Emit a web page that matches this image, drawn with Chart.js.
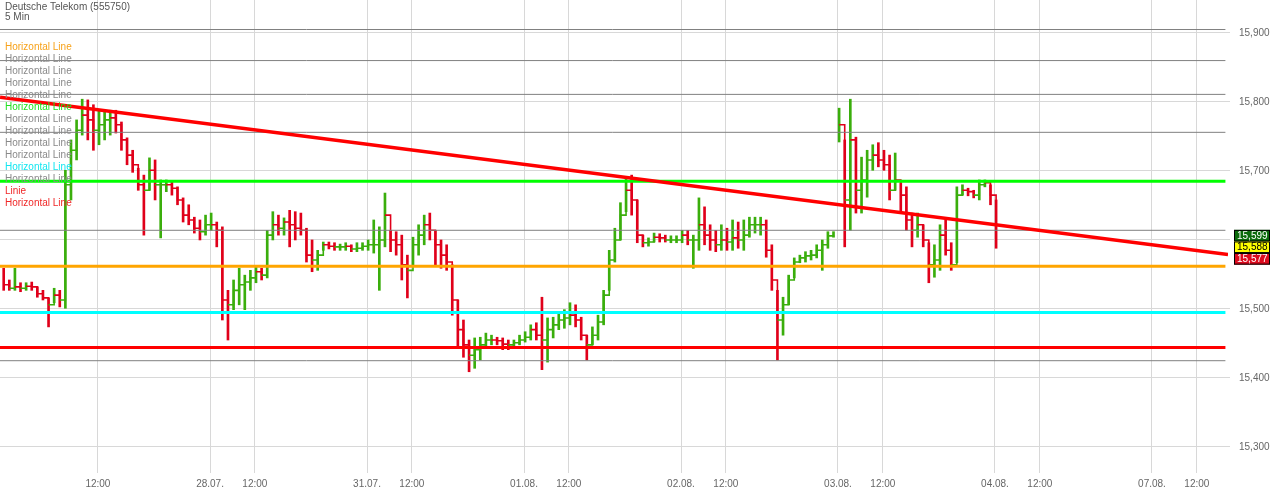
<!DOCTYPE html>
<html>
<head>
<meta charset="utf-8">
<script src="https://cdn.jsdelivr.net/npm/chart.js@4.4.0/dist/chart.umd.min.js"></script>
<style>
  html, body { margin: 0; padding: 0; background: #fff; }
  #wrap { width: 1274px; height: 491px; position: relative; }
</style>
</head>
<body>
<div id="wrap"><canvas id="myChart"></canvas></div>
<script>
// 30 min bars, x = trading hours counted from 27.07. 08:00 (one day = 14 h)
const startHour = -4.4;
const stepHours = 0.5;

const highs = [
  15.559, 15.542, 15.559, 15.538, 15.538, 15.539, 15.532, 15.527, 15.516, 15.530,
  15.527, 15.701, 15.745, 15.774, 15.804, 15.803, 15.796, 15.788, 15.788, 15.788,
  15.788, 15.771, 15.748, 15.730, 15.704, 15.694, 15.719, 15.716, 15.687, 15.687,
  15.684, 15.677, 15.661, 15.651, 15.633, 15.629, 15.636, 15.639, 15.626, 15.619,
  15.527, 15.542, 15.559, 15.549, 15.556, 15.562, 15.559, 15.614, 15.641, 15.636,
  15.632, 15.643, 15.641, 15.639, 15.617, 15.600, 15.585, 15.597, 15.597, 15.596,
  15.594, 15.596, 15.593, 15.596, 15.596, 15.600, 15.629, 15.619, 15.668, 15.614,
  15.612, 15.607, 15.578, 15.604, 15.622, 15.636, 15.639, 15.614, 15.600, 15.593,
  15.564, 15.513, 15.484, 15.455, 15.458, 15.459, 15.465, 15.462, 15.459, 15.458,
  15.455, 15.455, 15.462, 15.467, 15.477, 15.480, 15.517, 15.487, 15.488, 15.494,
  15.499, 15.509, 15.506, 15.488, 15.462, 15.474, 15.491, 15.527, 15.585, 15.617,
  15.654, 15.690, 15.694, 15.658, 15.607, 15.603, 15.610, 15.609, 15.607, 15.606,
  15.606, 15.614, 15.614, 15.607, 15.661, 15.648, 15.622, 15.614, 15.622, 15.617,
  15.629, 15.626, 15.629, 15.633, 15.633, 15.633, 15.629, 15.593, 15.527, 15.517,
  15.549, 15.574, 15.578, 15.583, 15.585, 15.593, 15.600, 15.612, 15.612, 15.791,
  15.745, 15.804, 15.749, 15.720, 15.730, 15.738, 15.741, 15.730, 15.723, 15.726,
  15.683, 15.677, 15.639, 15.639, 15.622, 15.596, 15.593, 15.622, 15.629, 15.596,
  15.677, 15.680, 15.675, 15.672, 15.687, 15.687, 15.680, 15.658
];
const lows = [
  15.527, 15.527, 15.527, 15.525, 15.527, 15.527, 15.517, 15.513, 15.474, 15.509,
  15.503, 15.501, 15.658, 15.716, 15.752, 15.745, 15.730, 15.738, 15.745, 15.752,
  15.755, 15.730, 15.709, 15.698, 15.672, 15.607, 15.672, 15.658, 15.603, 15.670,
  15.665, 15.651, 15.626, 15.622, 15.610, 15.600, 15.607, 15.614, 15.590, 15.484,
  15.455, 15.499, 15.506, 15.499, 15.527, 15.538, 15.542, 15.545, 15.600, 15.607,
  15.607, 15.590, 15.600, 15.607, 15.568, 15.554, 15.556, 15.585, 15.587, 15.585,
  15.585, 15.585, 15.583, 15.583, 15.585, 15.585, 15.581, 15.527, 15.590, 15.583,
  15.578, 15.542, 15.516, 15.564, 15.578, 15.593, 15.600, 15.564, 15.559, 15.556,
  15.491, 15.445, 15.430, 15.409, 15.414, 15.426, 15.445, 15.448, 15.448, 15.441,
  15.441, 15.444, 15.448, 15.452, 15.455, 15.455, 15.412, 15.423, 15.458, 15.470,
  15.472, 15.477, 15.474, 15.455, 15.426, 15.448, 15.455, 15.477, 15.527, 15.568,
  15.600, 15.641, 15.636, 15.596, 15.590, 15.591, 15.597, 15.597, 15.597, 15.596,
  15.596, 15.596, 15.593, 15.559, 15.585, 15.593, 15.585, 15.583, 15.585, 15.585,
  15.585, 15.588, 15.585, 15.604, 15.610, 15.607, 15.575, 15.527, 15.426, 15.462,
  15.506, 15.545, 15.567, 15.568, 15.571, 15.574, 15.556, 15.588, 15.604, 15.742,
  15.590, 15.614, 15.639, 15.639, 15.662, 15.701, 15.706, 15.701, 15.658, 15.672,
  15.639, 15.614, 15.590, 15.604, 15.590, 15.538, 15.546, 15.556, 15.578, 15.556,
  15.567, 15.665, 15.664, 15.661, 15.658, 15.677, 15.651, 15.588
];
const closes = [
  15.535, 15.530, 15.532, 15.530, 15.533, 15.532, 15.522, 15.516, 15.506, 15.520,
  15.513, 15.680, 15.730, 15.759, 15.781, 15.774, 15.759, 15.767, 15.774, 15.777,
  15.767, 15.745, 15.723, 15.709, 15.680, 15.672, 15.701, 15.680, 15.680, 15.680,
  15.675, 15.658, 15.636, 15.629, 15.617, 15.612, 15.622, 15.622, 15.614, 15.513,
  15.506, 15.527, 15.535, 15.539, 15.545, 15.554, 15.549, 15.607, 15.622, 15.617,
  15.626, 15.622, 15.617, 15.614, 15.578, 15.571, 15.578, 15.593, 15.591, 15.590,
  15.590, 15.591, 15.587, 15.588, 15.591, 15.593, 15.593, 15.600, 15.636, 15.600,
  15.593, 15.564, 15.556, 15.593, 15.607, 15.622, 15.614, 15.593, 15.578, 15.568,
  15.513, 15.470, 15.448, 15.433, 15.441, 15.448, 15.455, 15.455, 15.454, 15.449,
  15.448, 15.451, 15.455, 15.459, 15.470, 15.462, 15.455, 15.470, 15.477, 15.484,
  15.487, 15.491, 15.484, 15.462, 15.448, 15.462, 15.481, 15.520, 15.571, 15.600,
  15.636, 15.672, 15.658, 15.607, 15.596, 15.597, 15.604, 15.603, 15.600, 15.600,
  15.600, 15.607, 15.600, 15.600, 15.622, 15.607, 15.600, 15.593, 15.600, 15.597,
  15.603, 15.600, 15.607, 15.622, 15.622, 15.622, 15.585, 15.542, 15.484, 15.506,
  15.542, 15.568, 15.574, 15.577, 15.578, 15.585, 15.593, 15.606, 15.607, 15.767,
  15.658, 15.745, 15.672, 15.687, 15.716, 15.723, 15.716, 15.709, 15.672, 15.687,
  15.665, 15.629, 15.614, 15.622, 15.600, 15.564, 15.571, 15.607, 15.585, 15.564,
  15.665, 15.672, 15.670, 15.665, 15.680, 15.683, 15.665, 15.591
];
const sessionBreaks = [149]; // no connector into this bar (gap at open)

const yTicks = [15.3, 15.4, 15.5, 15.6, 15.7, 15.8, 15.9];
const xTickHours = [4, 14, 18, 28, 32, 42, 46, 56, 60, 70, 74, 84, 88, 98, 102];
const xTickLabels = ['12:00', '28.07.', '12:00', '31.07.', '12:00', '01.08.', '12:00',
  '02.08.', '12:00', '03.08.', '12:00', '04.08.', '12:00', '07.08.', '12:00'];

const grayLines = [15.905, 15.860, 15.811, 15.756, 15.614, 15.425];
const levelLines = [15.685, 15.562, 15.495, 15.444];
const trendStart = 15.807;
const trendEnd = 15.579;
const priceTags = [15.599, 15.588, 15.577];

const legendLabels = ['Horizontal Line', 'Horizontal Line', 'Horizontal Line', 'Horizontal Line',
  'Horizontal Line', 'Horizontal Line', 'Horizontal Line', 'Horizontal Line', 'Horizontal Line',
  'Horizontal Line', 'Horizontal Line', 'Horizontal Line', 'Linie', 'Horizontal Line'];

// styles
const xMin = -4.73, xMax = 104.78, lineEnd = 104.55;
const yMin = 15.2666, yMax = 15.9478;
const upColor = '#3aae0c';
const downColor = '#e0001a';
const levelColors = ['#00ff00', '#ffa500', '#00ffff', '#ff0000'];
const legendColors = ['#f7a21a', '#8a8a8a', '#8a8a8a', '#8a8a8a', '#8a8a8a', '#1fe01f', '#8a8a8a',
  '#8a8a8a', '#8a8a8a', '#8a8a8a', '#12e6f0', '#8a8a8a', '#f02828', '#f02828'];
const tagFill = ['#0b6b0b', '#ffff00', '#dc0a1e'];
const tagText = ['#ffffff', '#000000', '#ffffff'];

const fontFamily = '"Liberation Sans", Arial, sans-serif';
Chart.defaults.font.family = fontFamily;
Chart.defaults.font.size = 10;

const hours = closes.map((c, i) => startHour + i * stepHours);
const isUp = closes.map((c, i) => i === 0 ? c >= (highs[0] + lows[0]) / 2 : c >= closes[i - 1]);

const fmt = v => v.toFixed(3).replace('.', ',');

const overlay = {
  id: 'overlay',
  afterDatasetsDraw(chart) {
    const c = chart.ctx;
    c.save();
    c.font = '10px ' + fontFamily;
    c.textBaseline = 'middle';
    c.textAlign = 'left';
    c.fillStyle = '#555';
    c.fillText('Deutsche Telekom (555750)', 5, 7);
    c.fillText('5 Min', 5, 17);
    legendLabels.forEach((t, i) => {
      c.fillStyle = legendColors[i];
      c.fillText(t, 5, 47 + i * 12);
    });

    // last price tags, stacked around the middle one
    const mid = chart.scales.y.getPixelForValue(priceTags[1]) - 1;
    priceTags.forEach((v, i) => {
      const cy = mid + (i - 1) * 11.6;
      c.fillStyle = tagFill[i];
      c.fillRect(1234, cy - 5.8, 36, 11.6);
      c.strokeStyle = '#000';
      c.lineWidth = 1;
      c.strokeRect(1234.5, cy - 5.3, 35, 10.6);
      c.fillStyle = tagText[i];
      c.fillText(fmt(v), 1237, cy + 0.5);
    });
    c.restore();
  }
};

const hLine = (v, color, width, order) => ({
  type: 'line',
  data: [{ x: xMin, y: v }, { x: lineEnd, y: v }],
  borderColor: color,
  borderWidth: width,
  pointRadius: 0,
  order: order
});

new Chart(document.getElementById('myChart'), {
  type: 'bar',
  data: {
    datasets: [
      {
        type: 'bar',
        data: hours.map((h, i) => ({ x: h, y: [lows[i], highs[i]] })),
        backgroundColor: isUp.map(u => u ? upColor : downColor),
        barThickness: 2,
        minBarLength: 2,
        borderWidth: 0,
        order: 10
      },
      {
        type: 'line',
        data: hours.map((h, i) => ({ x: h, y: closes[i] })),
        stepped: true,
        borderWidth: 1.6,
        pointRadius: 0,
        order: 9,
        segment: {
          borderColor: ctx => sessionBreaks.includes(ctx.p1DataIndex) ? 'rgba(0,0,0,0)'
            : (isUp[ctx.p1DataIndex] ? upColor : downColor)
        }
      },
      ...grayLines.map(v => hLine(v, '#808080', 1, 3)),
      ...levelLines.map((v, i) => hLine(v, levelColors[i], 3, 2)),
      {
        type: 'line',
        data: [{ x: xMin, y: trendStart }, { x: xMax, y: trendEnd }],
        borderColor: '#ff0000',
        borderWidth: 3.5,
        pointRadius: 0,
        order: 1
      }
    ]
  },
  options: {
    responsive: true,
    maintainAspectRatio: false,
    animation: false,
    events: [],
    layout: { padding: 0 },
    plugins: {
      legend: { display: false },
      tooltip: { enabled: false },
      title: { display: false }
    },
    scales: {
      x: {
        type: 'linear',
        min: xMin,
        max: xMax,
        offset: false,
        afterBuildTicks: s => { s.ticks = xTickHours.map(v => ({ value: v })); },
        afterFit: s => { s.height = 21; s.paddingLeft = 0; s.paddingRight = 0; },
        ticks: {
          autoSkip: false,
          maxRotation: 0,
          padding: 5,
          color: '#666',
          callback: v => xTickLabels[xTickHours.indexOf(v)]
        },
        grid: { color: '#d8d8d8', tickLength: 3, offset: false },
        border: { display: false }
      },
      y: {
        type: 'linear',
        position: 'right',
        min: yMin,
        max: yMax,
        afterBuildTicks: s => { s.ticks = yTicks.map(v => ({ value: v })); },
        afterFit: s => { s.width = 46; s.paddingTop = 0; s.paddingBottom = 0; },
        ticks: {
          padding: 9,
          color: '#666',
          callback: v => fmt(v)
        },
        grid: { color: '#d8d8d8', tickLength: 2, offset: false },
        border: { display: false }
      }
    }
  },
  plugins: [overlay]
});
</script>
</body>
</html>
